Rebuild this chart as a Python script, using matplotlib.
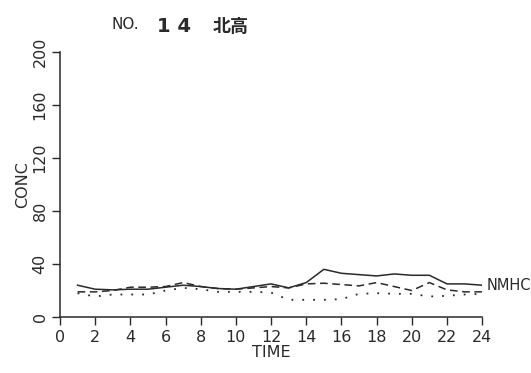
import matplotlib.pyplot as plt
import numpy as np

plt.rcParams['font.family'] = ['DejaVu Sans']

# Hourly concentrations, hours 1..24
hours = np.arange(1, 25)
nmhc = [24, 21, 20.5, 21, 21, 22.5, 24, 23, 21.5, 21, 23, 25,
        22, 26, 36, 33, 32, 31, 32.5, 31.5, 31.5, 25, 25, 24]
dashed = [19, 19, 20, 22.5, 22.5, 23, 26, 23, 21.5, 21, 22, 23,
          22, 25, 25.5, 24.5, 23.5, 26, 23, 20, 26, 20.5, 19, 19]
dotted = [18, 15.5, 17, 17, 17, 20, 22, 21, 19, 19, 19, 18.5,
          13, 13, 13, 13.5, 17.5, 18, 17.5, 17.5, 15.5, 16, 17, 17.5]

xticks = np.arange(0, 25, 2)
yticks = [0, 40, 80, 120, 160, 200]

fig = plt.figure(figsize=(5.31, 3.73), dpi=100)
ax = fig.add_axes([0.113, 0.150, 0.795, 0.711])

ink = '#2a2a2a'
ax.plot(hours, nmhc, color=ink, lw=1.1)
ax.plot(hours, dashed, color=ink, lw=1.1, dashes=(5, 3))
ax.plot(hours, dotted, color=ink, lw=1.3, dashes=(1, 5))
ax.text(24.25, nmhc[-1], 'NMHC', fontsize=10.5, va='center', ha='left',
        color=ink)

ax.set_xlim(0, 24)
ax.set_ylim(0, 200)
ax.set_xticks(xticks)
ax.set_xticklabels([str(t) for t in xticks], fontsize=11.5, color=ink)
ax.set_yticks(yticks)
ax.set_yticklabels([str(t) for t in yticks], fontsize=11.5, rotation=90,
                   va='center', color=ink)
ax.tick_params(length=6, width=1, color=ink, pad=3)
for s in ['top', 'right']:
    ax.spines[s].set_visible(False)
for s in ['left', 'bottom']:
    ax.spines[s].set_linewidth(1.1)
    ax.spines[s].set_color(ink)

ax.set_xlabel('TIME', fontsize=11.5, labelpad=0, color=ink)
ax.set_ylabel('CONC', fontsize=11.5, labelpad=2, color=ink)

fig.text(0.21, 0.935, 'NO.', fontsize=11, ha='left', va='center', color=ink)
fig.text(0.295, 0.93, '1 4', fontsize=14, ha='left', va='center',
         weight='bold', color=ink)
fig.text(0.40, 0.93, '北高', fontsize=13, ha='left', va='center',
         family=['Noto Sans CJK JP', 'DejaVu Sans'], weight='bold', color=ink)

fig.savefig('out.png', dpi=100, facecolor='white')
